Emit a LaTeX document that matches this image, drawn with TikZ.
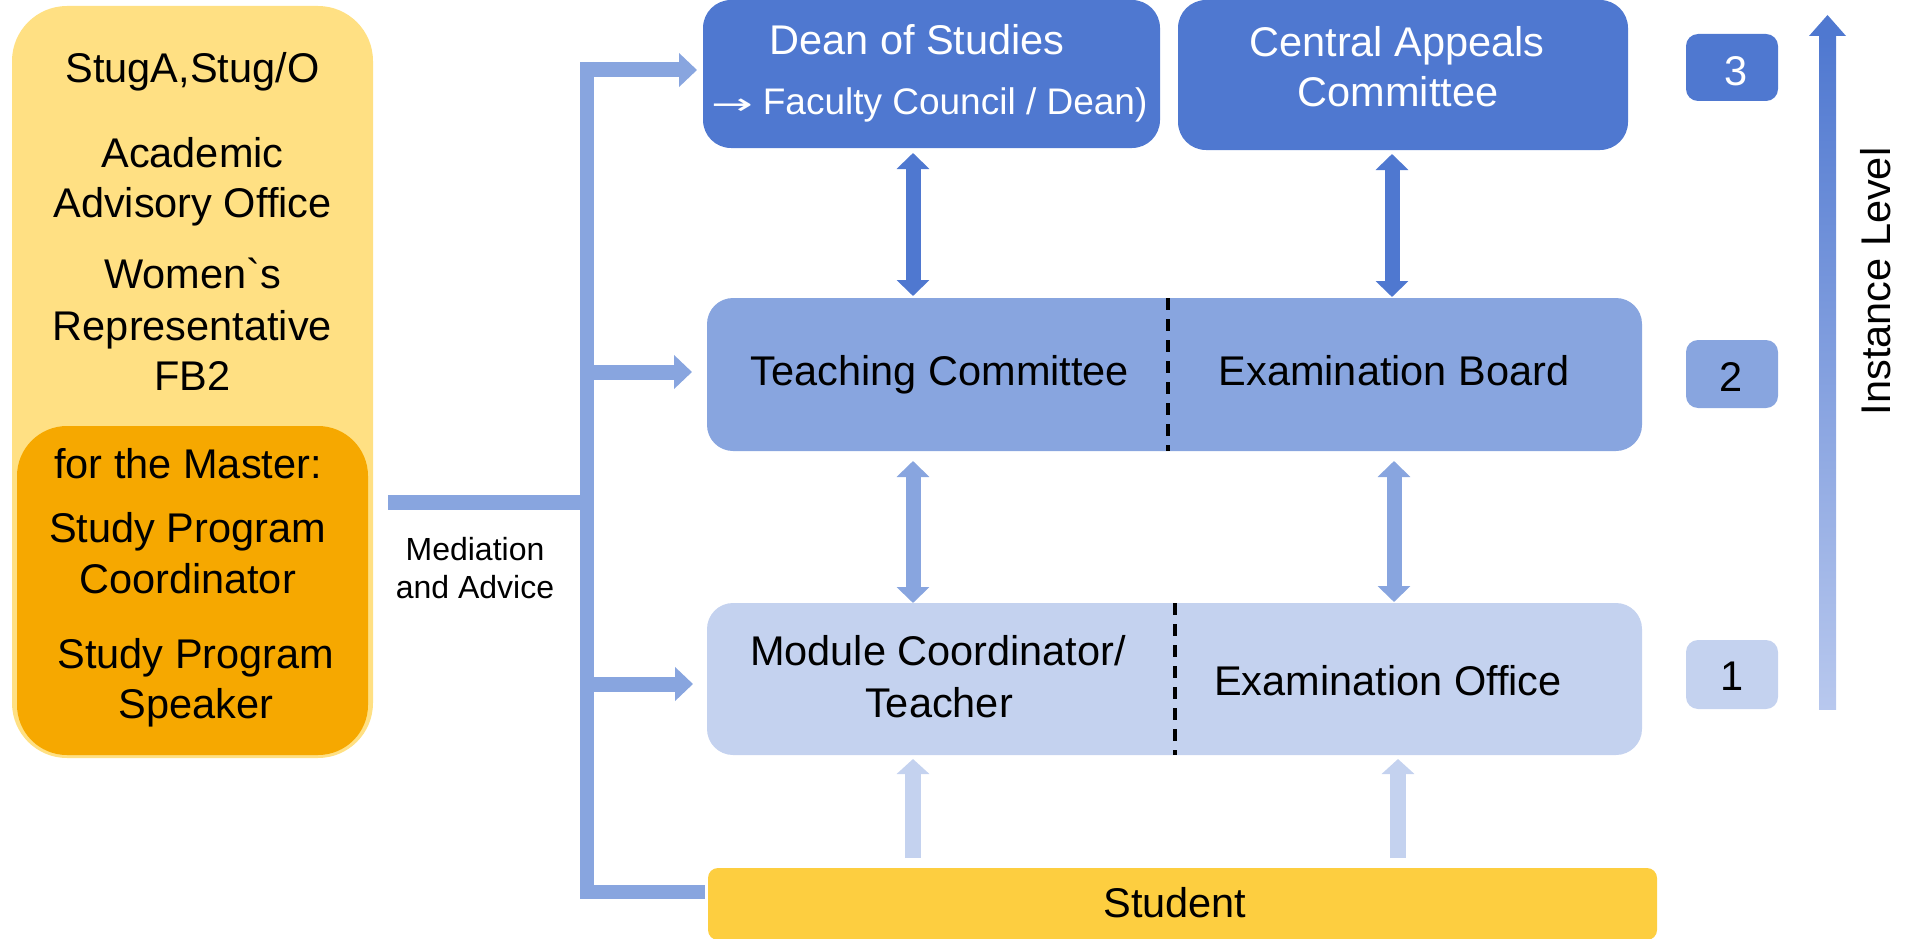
\documentclass[tikz,border=0pt]{standalone}
\usepackage{graphicx}
\usepackage{fontspec}
\setmainfont{Liberation Sans}
\newfontfamily\djv{DejaVu Sans}
\font\grv="Liberation Sans" at 41.5pt
\usetikzlibrary{arrows.meta}
\definecolor{cdark}{HTML}{4F78D0}
\definecolor{cmid}{HTML}{88A5DF}
\definecolor{clight}{HTML}{C4D2EF}
\definecolor{cyel}{HTML}{FFE083}
\definecolor{corange}{HTML}{F6A800}
\definecolor{cgold}{HTML}{FDCE40}
\definecolor{cgradmid}{HTML}{6A8CDA}
\definecolor{cgradlow}{HTML}{B8C8EE}
\newcommand\myfs[1]{\fontsize{#1pt}{#1pt}\selectfont}
\begin{document}
\begin{tikzpicture}[x=1pt,y=-1pt,
  every node/.style={inner sep=0pt, outer sep=0pt},
  rbox/.style={rectangle, rounded corners=#1},
  lbl/.style={anchor=base, font=\myfs{41.5}},
  wlbl/.style={lbl, text=white},
  dbl/.style={line width=15pt, {Triangle[length=16pt,width=32pt]}-{Triangle[length=16pt,width=32pt]}},
  upar/.style={draw=clight, line width=16pt, -{Triangle[length=15pt,width=32pt]}},
  brk/.style={draw=cmid, line width=15pt},
  brkar/.style={brk, -{Triangle[length=18pt,width=33pt]}},
  dashdiv/.style={draw=black, line width=3.5pt, dash pattern=on 12pt off 9pt}
]
\useasboundingbox (0,0) rectangle (1908,939);

% left advisory column
\node[rbox=55pt, fill=cyel, minimum width=361pt, minimum height=752pt] (side) at (192.5,382) {};
\node[rbox=50pt, fill=corange, minimum width=351pt, minimum height=329pt] (master) at (192.5,590.5) {};
\node[lbl] (t1) at (192.5,83) {StugA,Stug/O};
\node[lbl] (t2) at (192.5,167) {Academic};
\node[lbl] (t3) at (192.5,217) {Advisory Office};
\node[lbl] (t4) at (192.5,288) {Women{\grv`}s};
\node[lbl] (t5) at (192.5,340) {Representative};
\node[lbl] (t6) at (192.5,390) {FB2};
\node[lbl] (t7) at (188,478) {for the Master:};
\node[lbl] (t8) at (187.5,542) {Study Program};
\node[lbl] (t9) at (187.5,593) {Coordinator};
\node[lbl] (t10) at (196,668) {Study Program};
\node[lbl] (t11) at (196,718) {Speaker};

\node[anchor=base, font=\myfs{32}] (med1) at (475,560) {Mediation};
\node[anchor=base, font=\myfs{32}] (med2) at (475,598) {and Advice};

% main boxes
\node[rbox=28pt, fill=cdark, minimum width=457pt, minimum height=148pt] (dean) at (931.5,74) {};
\node[rbox=28pt, fill=cdark, minimum width=450pt, minimum height=150pt] (cac) at (1403,75) {};
\node[rbox=26pt, fill=cmid, minimum width=935pt, minimum height=153pt] (lvl2) at (1174.5,374.5) {};
\node[rbox=26pt, fill=clight, minimum width=935pt, minimum height=152pt] (lvl1) at (1174.5,679) {};
\node[rbox=10pt, fill=cgold, minimum width=949pt, minimum height=72pt] (student) at (1182.5,904) {};

\node[wlbl] (dean1) at (917,55) {Dean of Studies};
\node[anchor=base west, text=white, font=\myfs{37}] (dean2) at (711,115) {{\djv\scalebox{1.35}[0.8]{→}}\hspace{10pt}Faculty Council / Dean)};
\node[wlbl] (cac1) at (1397,57) {Central Appeals};
\node[wlbl] (cac2) at (1398,107) {Committee};
\node[lbl] (teach) at (940,385) {Teaching Committee};
\node[lbl] (board) at (1394,385) {Examination Board};
\node[lbl] (mod1) at (938,665) {Module Coordinator/};
\node[lbl] (mod2) at (939,717) {Teacher};
\node[lbl] (office) at (1388,695) {Examination Office};
\node[lbl] (stud) at (1175,917) {Student};

% dashed dividers
\coordinate (d2) at (1168,0);
\coordinate (d1) at (1175,0);
\draw[dashdiv] (lvl2.north -| d2) -- (lvl2.south -| d2);
\draw[dashdiv] (lvl1.north -| d1) -- (lvl1.south -| d1);

% level numbers
\node[rbox=12pt, fill=cdark, minimum width=92pt, minimum height=67pt] (n3) at (1732,67.5) {};
\node[rbox=12pt, fill=cmid, minimum width=92pt, minimum height=68pt] (n2) at (1732,374) {};
\node[rbox=12pt, fill=clight, minimum width=92pt, minimum height=69pt] (n1) at (1732,674.5) {};
\node[wlbl] (n3t) at (1736,86) {3};
\node[lbl] (n2t) at (1731,391) {2};
\node[lbl] (n1t) at (1732,690) {1};

% vertical double arrows
\coordinate (xL) at (913,0);
\coordinate (xR) at (1392,0);
\coordinate (xR2) at (1394,0);
\coordinate (xR3) at (1398,0);
\draw[dbl, draw=cdark, shorten <=5pt, shorten >=2pt] (dean.south -| xL) -- (lvl2.north -| xL);
\draw[dbl, draw=cdark, shorten <=4pt, shorten >=1pt] (cac.south -| xR) -- (lvl2.north -| xR);
\draw[dbl, draw=cmid, shorten <=10pt] (lvl2.south -| xL) -- (lvl1.north -| xL);
\draw[dbl, draw=cmid, shorten <=10pt, shorten >=1pt] (lvl2.south -| xR2) -- (lvl1.north -| xR2);
\draw[upar, shorten <=10pt, shorten >=4pt] (student.north -| xL) -- (lvl1.south -| xL);
\draw[upar, shorten <=10pt, shorten >=4pt] (student.north -| xR3) -- (lvl1.south -| xR3);

% mediation bracket
\coordinate (brTop) at (587,62);
\coordinate (brBot) at (587,899);
\coordinate (aT) at (580,70);
\coordinate (aM) at (587,372);
\coordinate (aB) at (587,684);
\coordinate (aS) at (580,892);
\coordinate (mS) at (388,502);
\draw[brk, line width=14pt] (brTop) -- (brBot);
\draw[brkar, shorten >=6pt] (aT) -- (dean.west |- aT);
\draw[brkar, shorten >=15pt] (aM) -- (lvl2.west |- aM);
\draw[brkar, shorten >=14pt] (aB) -- (lvl1.west |- aB);
\draw[brk, line width=14pt, shorten >=3pt] (aS) -- (student.west |- aS);
\draw[brk] (mS) -- (brTop |- mS);

% instance level arrow
\shade[top color=cdark, middle color=cgradmid, bottom color=cgradlow] (1819,35) rectangle (1836,709);
\fill[cdark] (1809,36) -- (1827.5,15) -- (1846,36) -- cycle;
\node[anchor=base, rotate=90, font=\myfs{41.5}] (inst) at (1890,281.5) {Instance Level};
\end{tikzpicture}
\end{document}
